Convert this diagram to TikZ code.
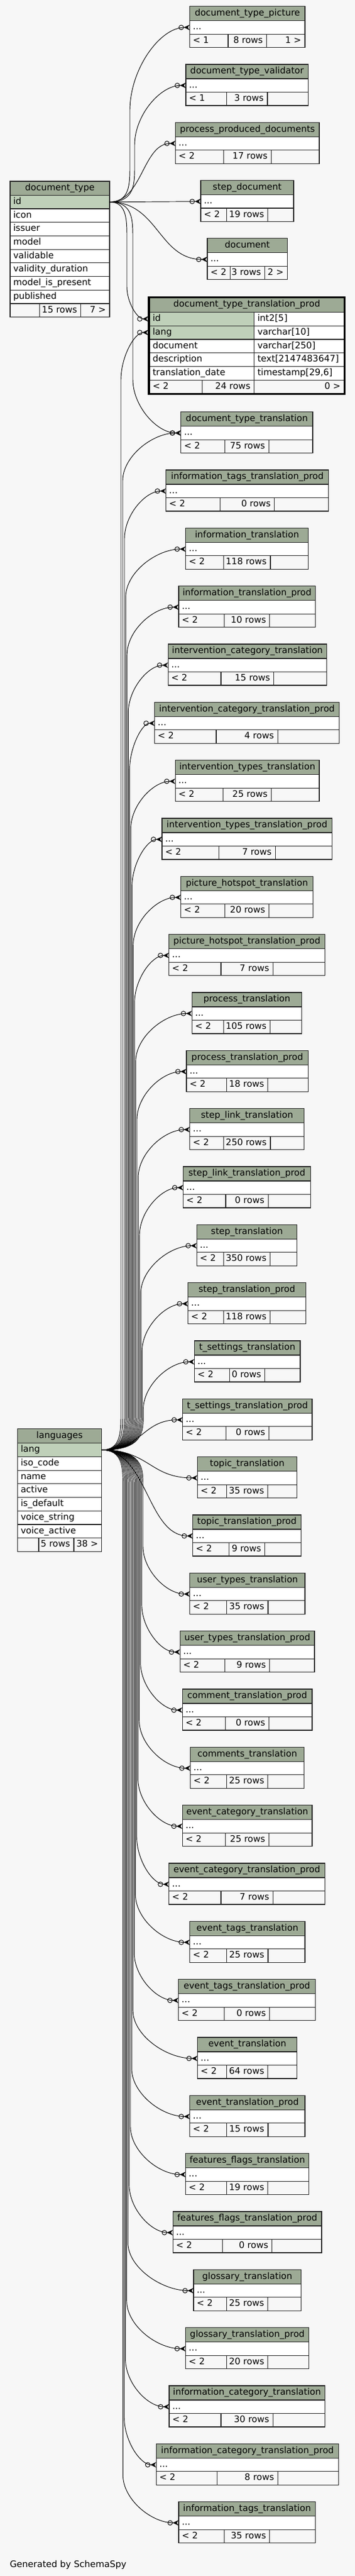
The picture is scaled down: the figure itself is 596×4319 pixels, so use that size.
\documentclass[tikz,border=0pt]{standalone}
\usepackage{fontspec}
\setmainfont{DejaVu Sans}
\usetikzlibrary{arrows.meta}
\definecolor{bgc}{HTML}{F7F7F7}
\definecolor{hdrc}{RGB}{157,170,149}
\definecolor{keyc}{RGB}{191,208,185}
\definecolor{linec}{HTML}{262626}
\tikzset{
 txt/.style={font=\fontsize{11.25pt}{13pt}\selectfont, inner sep=0pt, text height=8.3pt, text depth=2.6pt, text=black},
 grid/.style={draw=linec, line width=0.9pt},
 fk/.style={draw=black, line width=0.7pt, -{Circle[open,length=6.5pt,width=6.5pt] Stealth[reversed,length=7.5pt,width=7pt,inset=2.5pt]}},
}
% small table: #1 id, #2 ytop, #3 xl, #4 xr, #5 name, #6 left, #7 mid, #8 right, #9 mid min width
\newcommand\stab[9]{%
 \pgfmathsetmacro\sTyt{#2}%
 \pgfmathsetmacro\sTya{\sTyt+24}%
 \pgfmathsetmacro\sTyb{\sTyt+46.5}%
 \pgfmathsetmacro\sTyc{\sTyt+69}%
 \pgfmathsetmacro\sTW{#4-#3}%
 \pgfmathsetmacro\sTmw{max(\sTW/3,#9)}%
 \pgfmathsetmacro\sTda{#3+(\sTW-\sTmw)/2}%
 \pgfmathsetmacro\sTdb{\sTda+\sTmw}%
 \pgfmathsetmacro\sTry{\sTyt+35.25}%
 \pgfmathsetmacro\sTfy{\sTyt+57.75}%
 \pgfmathsetmacro\sTcx{(#3+#4)/2}%
 \expandafter\xdef\csname ty#1\endcsname{\sTry}%
 \expandafter\xdef\csname tx#1\endcsname{#3}%
 \fill[hdrc] (#3,\sTyt) rectangle (#4,\sTya);
 \fill[white] (#3,\sTya) rectangle (#4,\sTyb);
 \fill[bgc] (#3,\sTyb) rectangle (#4,\sTyc);
 \draw[grid] (#3,\sTya) -- (#4,\sTya) (#3,\sTyb) -- (#4,\sTyb) (\sTda,\sTyb) -- (\sTda,\sTyc) (\sTdb,\sTyb) -- (\sTdb,\sTyc);
 \draw[grid] (#3,\sTyt) rectangle (#4,\sTyc);
 \node[txt] (#1-name) at (\sTcx,{\sTyt+12}) {#5};
 \node[txt,anchor=west] (#1-dots) at ({#3+5},\sTry) {...};
 \node[txt,anchor=west] (#1-l) at ({#3+5},\sTfy) {#6};
 \node[txt,anchor=east] (#1-m) at ({\sTdb-6},\sTfy) {#7};
 \node[txt,anchor=east] (#1-r) at ({#4-6},\sTfy) {#8};
 \coordinate (#1) at (#3,\sTry);
}
% link: #1 source coord, #2 target id, #3 source y, #4 trunk x, #5 approach height
\newcommand\lnk[5]{%
 \pgfmathsetmacro\lkTy{\csname ty#2\endcsname}%
 \pgfmathsetmacro\lkTx{\csname tx#2\endcsname}%
 \pgfmathsetmacro\lkSg{(\lkTy>#3)?1:-1}%
 \pgfmathsetmacro\lkYa{#3+\lkSg*30}%
 \pgfmathsetmacro\lkYb{#3+\lkSg*60}%
 \pgfmathsetmacro\lkYc{\lkTy-\lkSg*2*#5}%
 \pgfmathsetmacro\lkYd{\lkTy-\lkSg*#5}%
 \pgfmathsetmacro\lkXm{#4+0.5*(\lkTx-#4)}%
 \draw[fk] (#1) .. controls (#4,#3) and (#4,\lkYa) .. (#4,\lkYb) -- (#4,\lkYc) .. controls (#4,\lkYd) and (\lkXm,\lkTy) .. (#2);
}
% s-curve link: #1 source, #2 target id, #3 source x, #4 source y
\newcommand\slnk[4]{%
 \pgfmathsetmacro\lkTy{\csname ty#2\endcsname}%
 \pgfmathsetmacro\lkTx{\csname tx#2\endcsname}%
 \pgfmathsetmacro\lkXm{#3+0.5*(\lkTx-#3)}%
 \draw[fk] (#1) .. controls (\lkXm,#4) and (\lkXm,\lkTy) .. (#2);
}
\begin{document}
\begin{tikzpicture}[x=0.75pt,y=-0.75pt]
\fill[bgc] (0,0) rectangle (596,4319);
\useasboundingbox (0,0) rectangle (596,4319);

% ---- document_type ----
\fill[hdrc] (17,304) rectangle (184,327.3);
\fill[keyc] (17,327.3) rectangle (184,350);
\fill[white] (17,350) rectangle (184,508.9);
\fill[bgc] (17,508.9) rectangle (184,531.6);
\foreach \yy in {327.3,350,372.7,395.4,418.1,440.8,463.5,486.2,508.9} \draw[grid] (17,\yy) -- (184,\yy);
\draw[grid] (66.5,508.9) -- (66.5,531.6) (135.7,508.9) -- (135.7,531.6);
\draw[grid] (17,304) rectangle (184,531.6);
\node[txt] (dt-name) at (100.5,315.65) {document\_type};
\node[txt,anchor=west] (dt-id) at (22,338.65) {id};
\foreach \nm [count=\i] in {icon,issuer,model,validable,validity\_duration,model\_is\_present,published}
 \node[txt,anchor=west] (dt-\i) at (22,{338.65+22.7*\i}) {\nm};
\node[txt,anchor=east] (dt-rows) at (129.7,520.25) {15 rows};
\node[txt,anchor=east] (dt-ref) at (178,520.25) {7 >};
\coordinate (D) at (184,338.65);

% ---- languages ----
\fill[hdrc] (29.3,2395.7) rectangle (170.7,2419.7);
\fill[keyc] (29.3,2419.7) rectangle (170.7,2442.4);
\fill[white] (29.3,2442.4) rectangle (170.7,2578.6);
\fill[bgc] (29.3,2578.6) rectangle (170.7,2601.3);
\foreach \yy in {2419.7,2442.4,2465.1,2487.8,2510.5,2533.2,2555.9,2578.6} \draw[grid] (29.3,\yy) -- (170.7,\yy);
\draw[grid] (65,2578.6) -- (65,2601.3) (124,2578.6) -- (124,2601.3);
\draw[grid] (29.3,2395.7) rectangle (170.7,2601.3);
\node[txt] (lg-name) at (100,2407.7) {languages};
\node[txt,anchor=west] (lg-lang) at (34.5,2431.05) {lang};
\foreach \nm [count=\i] in {iso\_code,name,active,is\_default,voice\_string,voice\_active}
 \node[txt,anchor=west] (lg-\i) at (34.5,{2431.05+22.7*\i}) {\nm};
\node[txt,anchor=east] (lg-rows) at (118,2589.95) {5 rows};
\node[txt,anchor=east] (lg-ref) at (165,2589.95) {38 >};
\coordinate (L) at (170.7,2431.05);

% ---- document_type_translation_prod ----
\fill[hdrc] (250,498.5) rectangle (578.7,523.3);
\fill[keyc] (250,523.3) rectangle (426.6,568.9);
\fill[white] (426.6,523.3) rectangle (578.7,568.9);
\fill[white] (250,568.9) rectangle (578.7,637.3);
\fill[bgc] (250,637.3) rectangle (578.7,660.1);
\foreach \yy in {523.3,546.1,568.9,591.7,614.5,637.3} \draw[grid] (250,\yy) -- (578.7,\yy);
\draw[grid] (426.6,523.3) -- (426.6,660.1) (339.5,637.3) -- (339.5,660.1);
\draw[black, line width=2.4pt] (250,498.5) rectangle (578.7,660.1);
\node[txt] (mt-name) at (414.3,510.9) {document\_type\_translation\_prod};
\foreach \nm/\ty [count=\i] in {id/{int2[5]},lang/{varchar[10]},document/{varchar[250]},description/{text[2147483647]},translation\_date/{timestamp[29,6]}} {
 \node[txt,anchor=west] (mt-c\i) at (256,{534.7+22.8*(\i-1)}) {\nm};
 \node[txt,anchor=west] (mt-t\i) at (432,{534.7+22.8*(\i-1)}) {\ty};
}
\node[txt,anchor=west] (mt-l) at (256,648.7) {< 2};
\node[txt,anchor=east] (mt-m) at (420.6,648.7) {24 rows};
\node[txt,anchor=east] (mt-r) at (572,648.7) {0 >};
\coordinate (mainid) at (249,534.7);
\coordinate (mainlang) at (249,557.5);
\expandafter\def\csname tymainid\endcsname{534.7}
\expandafter\def\csname txmainid\endcsname{249}
\expandafter\def\csname tymainlang\endcsname{557.5}
\expandafter\def\csname txmainlang\endcsname{249}

% ---- small tables ----
\stab{t1}{10.7}{318.6}{512}{document\_type\_picture}{< 1}{8 rows}{1 >}{58.2}
\stab{t2}{107.95}{312}{517.5}{document\_type\_validator}{< 1}{3 rows}{}{58.2}
\stab{t3}{205.2}{294.7}{536}{process\_produced\_documents}{< 2}{17 rows}{}{69.3}
\stab{t4}{302.45}{337}{493}{step\_document}{< 2}{19 rows}{}{69.6}
\stab{t5}{399.7}{348}{482.5}{document}{< 2}{3 rows}{2 >}{58.2}
\stab{t7}{690.7}{303.8}{525}{document\_type\_translation}{< 2}{75 rows}{}{69.3}
\stab{t8}{690.7+97.33*1}{278.7}{551.7}{information\_tags\_translation\_prod}{< 2}{0 rows}{}{58.2}
\stab{t9}{690.7+97.33*2}{311.8}{517.5}{information\_translation}{< 2}{118 rows}{}{78.6}
\stab{t10}{690.7+97.33*3}{300}{529.3}{information\_translation\_prod}{< 2}{10 rows}{}{69.3}
\stab{t11}{690.7+97.33*4}{282.3}{548.3}{intervention\_category\_translation}{< 2}{15 rows}{}{69.3}
\stab{t12}{690.7+97.33*5}{259.7}{569.3}{intervention\_category\_translation\_prod}{< 2}{4 rows}{}{58.2}
\stab{t13}{690.7+97.33*6}{294.3}{536}{intervention\_types\_translation}{< 2}{25 rows}{}{69.3}
\stab{t14}{690.7+97.33*7}{272}{557.3}{intervention\_types\_translation\_prod}{< 2}{7 rows}{}{58.2}
\stab{t15}{690.7+97.33*8}{303.7}{525.3}{picture\_hotspot\_translation}{< 2}{20 rows}{}{69.3}
\stab{t16}{690.7+97.33*9}{283.7}{545.3}{picture\_hotspot\_translation\_prod}{< 2}{7 rows}{}{58.2}
\stab{t17}{690.7+97.33*10}{322.3}{506.7}{process\_translation}{< 2}{105 rows}{}{78.6}
\stab{t18}{690.7+97.33*11}{313}{517.3}{process\_translation\_prod}{< 2}{18 rows}{}{69.3}
\stab{t19}{690.7+97.33*12}{318.7}{510.7}{step\_link\_translation}{< 2}{250 rows}{}{78.6}
\stab{t20}{690.7+97.33*13}{307.7}{521.3}{step\_link\_translation\_prod}{< 2}{0 rows}{}{58.2}
\stab{t21}{690.7+97.33*14}{330.3}{498.7}{step\_translation}{< 2}{350 rows}{}{78.6}
\stab{t22}{690.7+97.33*15}{315.7}{513.3}{step\_translation\_prod}{< 2}{118 rows}{}{78.6}
\stab{t23}{690.7+97.33*16}{326.3}{504}{t\_settings\_translation}{< 2}{0 rows}{}{58.2}
\stab{t24}{690.7+97.33*17}{306.7}{524}{t\_settings\_translation\_prod}{< 2}{0 rows}{}{58.2}
\stab{t25}{690.7+97.33*18}{331.5}{498.5}{topic\_translation}{< 2}{35 rows}{}{69.3}
\stab{t26}{690.7+97.33*19}{323.7}{505.3}{topic\_translation\_prod}{< 2}{9 rows}{}{58.2}
\stab{t27}{690.7+97.33*20}{318.7}{512}{user\_types\_translation}{< 2}{35 rows}{}{69.3}
\stab{t28}{690.7+97.33*21}{302.3}{528}{user\_types\_translation\_prod}{< 2}{9 rows}{}{58.2}
\stab{t29}{690.7+97.33*22}{306.3}{524}{comment\_translation\_prod}{< 2}{0 rows}{}{58.2}
\stab{t30}{690.7+97.33*23}{319.7}{510.7}{comments\_translation}{< 2}{25 rows}{}{69.3}
\stab{t31}{690.7+97.33*24}{306.3}{524}{event\_category\_translation}{< 2}{25 rows}{}{69.3}
\stab{t32}{690.7+97.33*25}{283.7}{545.3}{event\_category\_translation\_prod}{< 2}{7 rows}{}{58.2}
\stab{t33}{690.7+97.33*26}{318.7}{512}{event\_tags\_translation}{< 2}{25 rows}{}{69.3}
\stab{t34}{690.7+97.33*27}{299.7}{529.3}{event\_tags\_translation\_prod}{< 2}{0 rows}{}{58.2}
\stab{t35}{690.7+97.33*28}{331.7}{498.7}{event\_translation}{< 2}{64 rows}{}{69.3}
\stab{t36}{690.7+97.33*29}{318.7}{512}{event\_translation\_prod}{< 2}{15 rows}{}{69.3}
\stab{t37}{690.7+97.33*30}{311.7}{518.7}{features\_flags\_translation}{< 2}{19 rows}{}{69.3}
\stab{t38}{690.7+97.33*31}{290.3}{540}{features\_flags\_translation\_prod}{< 2}{0 rows}{}{58.2}
\stab{t39}{690.7+97.33*32}{325}{505.3}{glossary\_translation}{< 2}{25 rows}{}{69.3}
\stab{t40}{690.7+97.33*33}{311.7}{518.7}{glossary\_translation\_prod}{< 2}{20 rows}{}{69.3}
\stab{t41}{690.7+97.33*34}{284}{545.2}{information\_category\_translation}{< 2}{30 rows}{}{69.3}
\stab{t42}{690.7+97.33*35}{262.4}{568.4}{information\_category\_translation\_prod}{< 2}{8 rows}{}{58.2}
\stab{t43}{690.7+97.33*36}{300}{529.3}{information\_tags\_translation}{< 2}{35 rows}{}{69.3}

% ---- connectors from document_type.id ----
\lnk{D}{t1}{338.65}{218}{70}
\lnk{D}{t2}{338.65}{226}{50}
\slnk{D}{t3}{184}{338.65}
\draw[fk] (D) -- (t4);
\slnk{D}{t5}{184}{338.65}
\lnk{D}{mainid}{338.65}{213}{27}
\lnk{D}{t7}{338.65}{223}{45}

% ---- connectors from languages.lang ----
\lnk{L}{mainlang}{2431.05}{203}{40}
\lnk{L}{t7}{2431.05}{206}{40}
\foreach \k in {8,...,23} {
 \pgfmathsetmacro\lkXt{209+2.1*(\k-8)}
 \lnk{L}{t\k}{2431.05}{\lkXt}{40}
}
\slnk{L}{t24}{170.7}{2431.05}
\slnk{L}{t25}{170.7}{2431.05}
\slnk{L}{t26}{170.7}{2431.05}
\foreach \k in {27,...,43} {
 \pgfmathsetmacro\lkXt{240-2.1*(\k-27)}
 \lnk{L}{t\k}{2431.05}{\lkXt}{40}
}

\node[txt,anchor=base west] (gen) at (16.3,4304) {Generated by SchemaSpy};
\end{tikzpicture}
\end{document}
